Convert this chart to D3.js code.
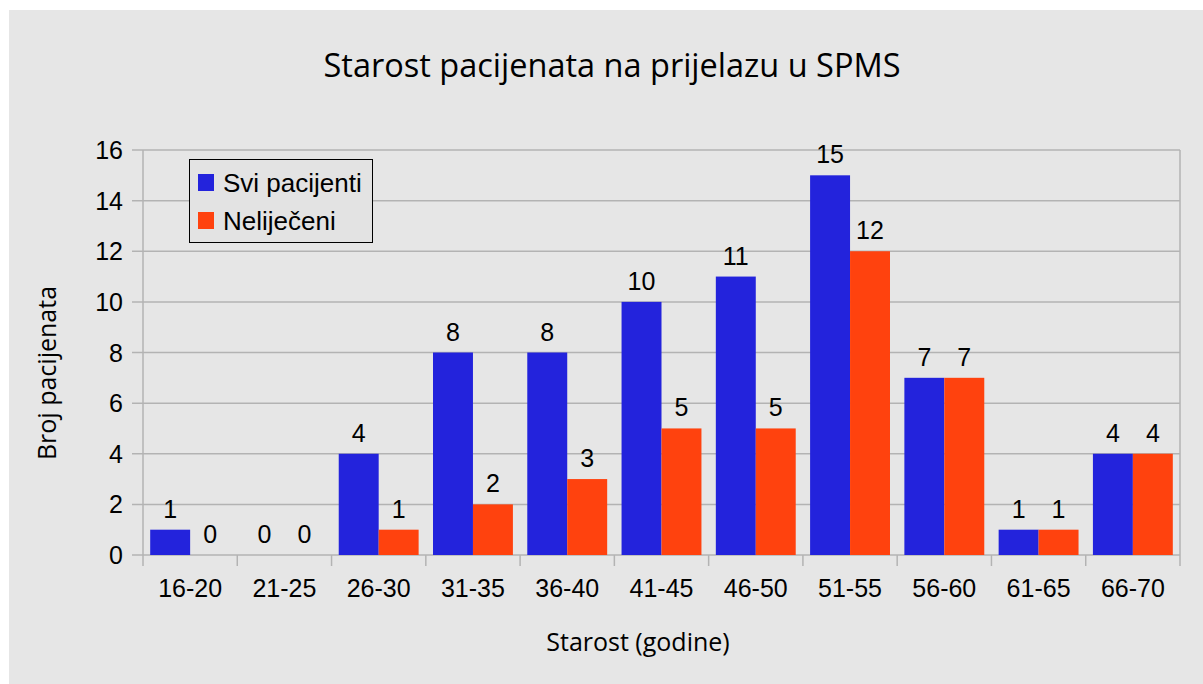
<!DOCTYPE html>
<html><head><meta charset="utf-8">
<script src="https://cdn.jsdelivr.net/npm/d3@7"></script>
<style>body{margin:0;background:#fff}</style>
</head><body>
<svg id="c" width="1203" height="684"></svg>
<script>
const categories = ["16-20","21-25","26-30","31-35","36-40","41-45","46-50","51-55","56-60","61-65","66-70"];
const sviPacijenti = [1,0,4,8,8,10,11,15,7,1,4];
const nelijeceni = [0,0,1,2,3,5,5,12,7,1,4];
const seriesNames = ["Svi pacijenti","Nelije\u010deni"];
const yTicks = [0,2,4,6,8,10,12,14,16];
const colors = ["#2323dc","#ff420e"];

const svg = d3.select("#c");
svg.append("rect").attr("x",9).attr("y",10).attr("width",1194).attr("height",674).attr("fill","#e6e6e6");

const L=143,R=1180,T=150,B=555;
const x = d3.scaleBand().domain(categories).range([L,R]).paddingInner(0).paddingOuter(0);
const inner = d3.scaleBand().domain([0,1]).range([0,x.bandwidth()]).paddingInner(0).paddingOuter(0.18);
const y = d3.scaleLinear().domain([0,16]).range([B,T]);
const grid="#b3b3b3";
const sans="Liberation Sans, Arial";

svg.append("g").selectAll("line").data(yTicks).join("line")
  .attr("x1",L-11).attr("x2",R).attr("y1",d=>y(d)).attr("y2",d=>y(d))
  .attr("stroke",grid).attr("stroke-width",1.5);
svg.append("line").attr("x1",L).attr("x2",L).attr("y1",T).attr("y2",B+11).attr("stroke",grid).attr("stroke-width",1.5);
svg.append("line").attr("x1",R).attr("x2",R).attr("y1",T).attr("y2",B+11).attr("stroke",grid).attr("stroke-width",1.5);
svg.append("g").selectAll("line").data(categories.slice(1)).join("line")
  .attr("x1",d=>x(d)).attr("x2",d=>x(d)).attr("y1",B).attr("y2",B+11)
  .attr("stroke",grid).attr("stroke-width",1.5);

svg.append("g").selectAll("text").data(yTicks).join("text")
  .attr("x",123).attr("y",d=>y(d)+9).attr("text-anchor","end")
  .attr("font-family",sans).attr("font-size",25).attr("fill","#000").text(d=>d);
svg.append("g").selectAll("text").data(categories).join("text")
  .attr("x",d=>x(d)+x.bandwidth()/2).attr("y",597).attr("text-anchor","middle")
  .attr("font-family",sans).attr("font-size",25).attr("fill","#000").text(d=>d);

const series=[sviPacijenti,nelijeceni];
series.forEach((vals,si)=>{
  const g=svg.append("g");
  g.selectAll("rect").data(vals).join("rect")
    .attr("x",(d,i)=>x(categories[i])+inner(si)).attr("width",inner.bandwidth())
    .attr("y",d=>y(d)).attr("height",d=>B-y(d)).attr("fill",colors[si]);
  g.selectAll("text").data(vals).join("text")
    .attr("x",(d,i)=>x(categories[i])+inner(si)+inner.bandwidth()/2)
    .attr("y",d=>y(d)-12).attr("text-anchor","middle")
    .attr("font-family",sans).attr("font-size",25).attr("fill","#000").text(d=>d);
});

svg.append("text").attr("x",612).attr("y",77).attr("text-anchor","middle")
  .attr("font-family","Open Sans").attr("font-size",32.5).attr("fill","#000")
  .text("Starost pacijenata na prijelazu u SPMS");
svg.append("text").attr("x",638).attr("y",651).attr("text-anchor","middle")
  .attr("font-family","Open Sans").attr("font-size",25).attr("fill","#000")
  .text("Starost (godine)");
svg.append("text").attr("transform","translate(56,373) rotate(-90)").attr("text-anchor","middle")
  .attr("font-family","Open Sans").attr("font-size",25).attr("fill","#000")
  .text("Broj pacijenata");

const lg=svg.append("g");
lg.append("rect").attr("x",189.5).attr("y",159.5).attr("width",183).attr("height",83)
  .attr("fill","#e3e3e3").attr("stroke","#000").attr("stroke-width",1);
seriesNames.forEach((n,i)=>{
  lg.append("rect").attr("x",198).attr("y",174+i*38).attr("width",16).attr("height",17).attr("fill",colors[i]);
  lg.append("text").attr("x",223).attr("y",192+i*38).attr("font-family",sans)
    .attr("font-size",26).attr("fill","#000").text(n);
});
</script>
</body></html>
